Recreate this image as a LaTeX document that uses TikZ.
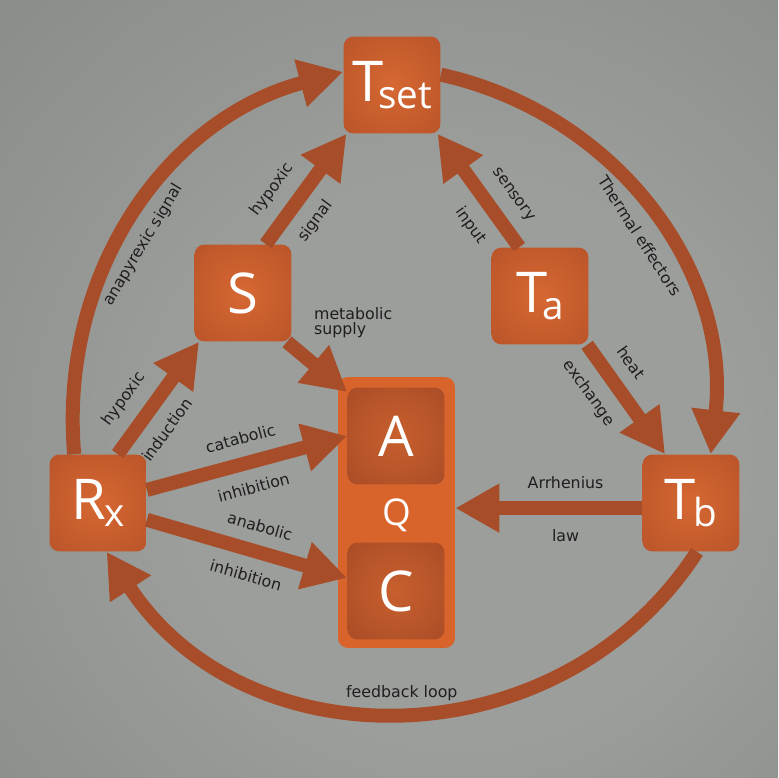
\documentclass[tikz,border=0pt]{standalone}
\usepackage{fontspec}
\newfontfamily\letterfont{Open Sans}
\newfontfamily\notefont{DejaVu Sans}
\usetikzlibrary{arrows.meta}
\usetikzlibrary{calc}

\begin{document}
\begin{tikzpicture}[x=0.02cm, y=0.02cm]
    \definecolor{backin}{RGB}{156,158,155}
\definecolor{backout}{RGB}{106,111,108}
\definecolor{boxin}{RGB}{214,104,50}
\definecolor{boxout}{RGB}{176,77,38}
\definecolor{cellin}{RGB}{200,95,46}
\definecolor{cellout}{RGB}{160,70,36}
\definecolor{poolfill}{RGB}{216,100,44}
\definecolor{flow}{RGB}{168,77,41}
\colorlet{annotation}{black!88}

\pgfdeclareradialshading{backglow}{\pgfpoint{6bp}{-6bp}}{
    color(0bp)=(backin); color(18bp)=(backin); color(76bp)=(backout)}
\pgfdeclareradialshading{boxglow}{\pgfpoint{0bp}{0bp}}{
    color(0bp)=(boxin); color(48bp)=(boxout); color(72bp)=(boxout)}
\pgfdeclareradialshading{cellglow}{\pgfpoint{0bp}{0bp}}{
    color(0bp)=(cellin); color(48bp)=(cellout); color(72bp)=(cellout)}

\newcommand\boxsize{1.94cm}
\newcommand\shaft{0.28cm}
\newcommand\sublabel[1]{\raisebox{-4pt}{\fontsize{22}{22}\selectfont #1}}

\tikzset{
    state/.style={
        rectangle, rounded corners=0.2cm,
        shade, shading=boxglow,
        minimum width=\boxsize, minimum height=\boxsize,
        inner sep=0pt, text=white,
        font=\letterfont\fontsize{32}{32}\selectfont,
    },
    cell/.style={state, shading=cellglow},
    pool/.style={
        rectangle, rounded corners=0.2cm, fill=poolfill,
        minimum width=2.34cm, minimum height=5.42cm,
        inner sep=0pt, text=white, text depth=0pt,
        font=\letterfont\fontsize{21}{21}\selectfont,
    },
    link/.style={
        draw=flow, line width=\shaft,
        -{Triangle[width=0.92cm, length=0.88cm]},
    },
    note/.style={
        text=annotation, inner sep=1pt,
        font=\notefont\fontsize{9}{10}\selectfont,
    },
}

\shade[shading=backglow] (0, 0) rectangle (778, 778);

\node[state] (Tset) at (392, 693) {T\kern-3pt\sublabel{set}};
\node[state] (S) at (243, 485) {S};
\node[state] (Ta) at (540, 482) {T\kern-3pt\sublabel{a}};
\node[state] (Rx) at (98, 275) {R\kern-1pt\sublabel{x}};
\node[state] (Tb) at (691, 275) {T\kern-1pt\sublabel{b}};

\node[pool] (Q) at (396.5, 265.5) {Q};
\node[cell] (A) at (396, 342) {A};
\node[cell] (C) at (396, 187) {C};

\node[note, anchor=west, align=left] (supply) at (312, 455) {metabolic\\[-1.5pt]supply};

\draw[link] (Rx.116) to[bend left=40]
    node[note, below=4pt, sloped, pos=.45] (anapyrexic) {anapyrexic signal} (Tset.165);
\draw[link] (Tset.12) to[bend left=42]
    node[note, below=4pt, sloped, pos=.53] (effectors) {Thermal effectors} (Tb.68);
\draw[link] (Tb.-83) to[bend left=57, looseness=1.1]
    node[note, above=1pt, sloped, pos=.5] (feedback) {feedback loop} (Rx.-80);

\draw[link] (Rx.68) --
    node[note, above=6pt, sloped, pos=.35] (induction-a) {hypoxic}
    node[note, below=6pt, sloped, pos=.35] (induction-b) {induction} (S.228);
\draw[link] (S.65) --
    node[note, above=6pt, sloped, pos=.35] (signal-a) {hypoxic}
    node[note, below=6pt, sloped, pos=.35] (signal-b) {signal} (Tset.227);
\draw[link] (Ta.113) --
    node[note, above=6pt, sloped, pos=.33] (sensory-a) {sensory}
    node[note, below=6pt, sloped, pos=.33] (sensory-b) {input} (Tset.313);
\draw[link] (Ta.-46) --
    node[note, above=6pt, sloped, pos=.3] (heat-a) {heat}
    node[note, below=6pt, sloped, pos=.3] (heat-b) {exchange} (Tb.118);
\draw[link] (S.-48) -- (A.138);
\draw[link] (Rx.15) --
    node[note, above=6pt, sloped, pos=.5] (catabolic-a) {catabolic}
    node[note, below=6pt, sloped, pos=.5] (catabolic-b) {inhibition} (A.west);
\draw[link] (Rx.-19) --
    node[note, above=6pt, sloped, pos=.53] (anabolic-a) {anabolic}
    node[note, below=6pt, sloped, pos=.53] (anabolic-b) {inhibition} (C.165);
\draw[link] (Tb.186) --
    node[note, above=6pt, pos=.41] (arrhenius-a) {Arrhenius}
    node[note, below=7pt, pos=.41] (arrhenius-b) {law} (Tb.186 -| Q.east);
\end{tikzpicture}
\end{document}
